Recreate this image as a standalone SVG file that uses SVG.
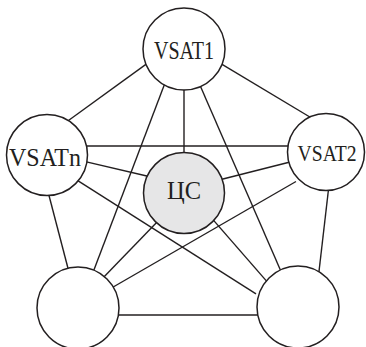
<svg xmlns="http://www.w3.org/2000/svg" width="366" height="347" viewBox="0 0 366 347">
<style>
.ln{stroke:#231f20;stroke-width:1.4;fill:none}
.nd{stroke:#231f20;stroke-width:1.5;fill:#ffffff}
.cs{fill:#e6e6e7}
.t{font-family:"Liberation Serif","Times New Roman",serif;font-size:24.5px;fill:#231f20;text-anchor:middle}
</style>
<rect width="366" height="347" fill="#ffffff"/>
<g id="connectors">
<line class="ln" x1="150" y1="61.4" x2="65" y2="123"/>
<line class="ln" x1="215" y1="60.2" x2="314" y2="119.5"/>
<line class="ln" x1="184" y1="85" x2="184" y2="160"/>
<line class="ln" x1="165" y1="83" x2="92" y2="275"/>
<line class="ln" x1="199" y1="83" x2="283" y2="276"/>
<line class="ln" x1="80" y1="146" x2="295" y2="146"/>
<line class="ln" x1="80" y1="160.4" x2="150" y2="176.7"/>
<line class="ln" x1="75" y1="178.8" x2="256" y2="293.8"/>
<line class="ln" x1="46" y1="184" x2="70" y2="276"/>
<line class="ln" x1="160" y1="219" x2="100" y2="281"/>
<line class="ln" x1="211" y1="217.4" x2="267" y2="281.6"/>
<line class="ln" x1="218" y1="180.3" x2="296" y2="160.5"/>
<line class="ln" x1="296" y1="181.5" x2="108" y2="290"/>
<line class="ln" x1="329" y1="185" x2="318" y2="280"/>
<line class="ln" x1="115" y1="315" x2="262" y2="315"/>
</g>
<g id="vsat1">
<circle class="nd" cx="184" cy="49" r="41"/>
<text class="t" x="184" y="59" textLength="60" lengthAdjust="spacingAndGlyphs">VSAT1</text>
</g>
<g id="vsatn">
<circle class="nd" cx="47" cy="155" r="40.5"/>
<text class="t" x="45" y="166" textLength="72" lengthAdjust="spacingAndGlyphs">VSATn</text>
</g>
<g id="vsat2">
<circle class="nd" cx="326" cy="152" r="38.5"/>
<text class="t" x="327" y="161" style="font-size:23px" textLength="59" lengthAdjust="spacingAndGlyphs">VSAT2</text>
</g>
<g id="cs">
<circle class="nd cs" cx="184" cy="193" r="40.5"/>
<text class="t" x="184" y="199">ЦС</text>
</g>
<g id="node-bl">
<circle class="nd" cx="78" cy="308" r="41"/>
</g>
<g id="node-br">
<circle class="nd" cx="298" cy="307" r="41"/>
</g>
</svg>
